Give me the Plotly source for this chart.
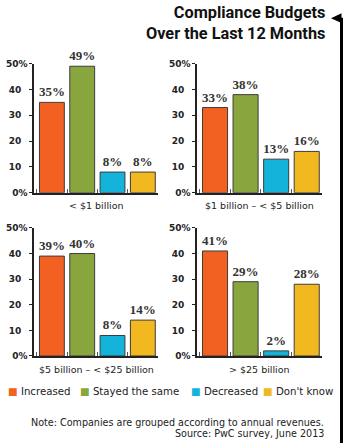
import plotly.graph_objects as go

W, H = 350, 448

groups = ["< $1 billion", "$1 billion \u2013 < $5 billion", "$5 billion \u2013 < $25 billion", "> $25 billion"]
statuses = ["Increased", "Stayed the same", "Decreased", "Don't know"]
increased = [35, 33, 39, 41]
stayed = [49, 38, 40, 29]
decreased = [8, 13, 8, 2]
dont_know = [8, 16, 14, 28]
colors = ["#F26122", "#88A53E", "#14B4DA", "#F1B81F"]
ytick_vals = [0, 10, 20, 30, 40, 50]
ytick_text = ["0%", "10", "20", "30", "40", "50%"]

title_lines = ["Compliance Budgets", "Over the Last 12 Months"]
note = "Note: Companies are grouped according to annual revenues."
source = "Source: PwC survey, June 2013"


def px(x):
    return x / W


def py(y):
    return 1 - y / H


# panel pixel boxes: (x0, x1, ytop(50%), ybottom(0%))
panels = [(34, 158, 60, 192), (197, 322, 60, 192), (34, 158, 228, 359), (197, 322, 228, 359)]
label_y = [205.5, 205.5, 373, 373]

fig = go.Figure()
dark = "#222222"
pad_text = [t if t.endswith("%") else t + "\u00a0\u00a0" for t in ytick_text]

for i, g in enumerate(groups):
    vals = [increased[i], stayed[i], decreased[i], dont_know[i]]
    n = "" if i == 0 else str(i + 1)
    fig.add_trace(go.Bar(
        x=statuses, y=vals,
        marker=dict(color=colors, line=dict(color="#3c3c3c", width=1)),
        text=[f"{v}%" for v in vals], textposition="outside",
        textfont=dict(family="Liberation Serif", size=13, color="#333333", weight="bold"),
        cliponaxis=False, constraintext="none",
        xaxis="x" + n, yaxis="y" + n, showlegend=False, hoverinfo="skip",
    ))
    x0, x1, yt, yb = panels[i]
    fig.update_layout(**{
        "xaxis" + n: dict(domain=[px(x0), px(x1)], anchor="y" + n, type="category",
                          range=[-0.59, 3.5], showline=True, linecolor=dark, linewidth=1.5,
                          ticks="inside", tickson="boundaries", ticklen=4, tickcolor="#555",
                          showticklabels=False, showgrid=False, zeroline=False, fixedrange=True),
        "yaxis" + n: dict(domain=[py(yb), py(yt)], anchor="x" + n, range=[0, 50],
                          tickvals=ytick_vals, ticktext=pad_text, showline=True,
                          linecolor=dark, linewidth=1.5, ticks="outside", ticklen=3,
                          tickcolor=dark, tickfont=dict(family="DejaVu Sans", size=9, color=dark, weight="bold"),
                          showgrid=False, zeroline=False, fixedrange=True),
    })
    fig.add_annotation(x=px((x0 + x1) / 2), y=py(label_y[i]), xref="paper", yref="paper",
                       text=g, showarrow=False, xanchor="center", yanchor="middle",
                       font=dict(family="DejaVu Sans", size=9.5, color=dark))

# title
fig.add_annotation(x=px(326), y=py(18.5), xref="paper", yref="paper", text="<br>".join(title_lines),
                   showarrow=False, xanchor="right", yanchor="middle", align="right", borderpad=0,
                   font=dict(family="Roboto", size=16.3, color="#111111", weight="bold"))

# legend (text glyphs)
legend_x = [6, 78, 189, 261]
for s, c, lx in zip(statuses, colors, legend_x):
    fig.add_annotation(x=px(lx), y=py(395), xref="paper", yref="paper",
                       text=f"<span style='color:{c}'>\u25A0</span> {s}",
                       showarrow=False, xanchor="left", yanchor="middle",
                       font=dict(family="DejaVu Sans", size=10.2, color=dark))

for txt, yy in zip([note, source], [427, 438.5]):
    fig.add_annotation(x=px(325), y=py(yy), xref="paper", yref="paper", text=txt,
                       showarrow=False, xanchor="right", yanchor="middle", borderpad=0,
                       font=dict(family="DejaVu Sans", size=9.6, color=dark))

# right rule with pointer
fig.add_shape(type="line", xref="paper", yref="paper", x0=px(341.5), x1=px(341.5),
              y0=0, y1=py(13), line=dict(color="#000", width=3))
fig.add_shape(type="path", xref="paper", yref="paper",
              path=f"M {px(331)} {py(13.5)} L {px(341.5)} {py(8.5)} L {px(341.5)} {py(18.5)} Z",
              fillcolor="#000", line=dict(width=0))

fig.update_layout(width=W, height=H, margin=dict(l=0, r=0, t=0, b=0),
                  paper_bgcolor="white", plot_bgcolor="white", bargap=0.18,
                  showlegend=False)

fig.write_html("out.html", config={"displayModeBar": False, "responsive": False})
